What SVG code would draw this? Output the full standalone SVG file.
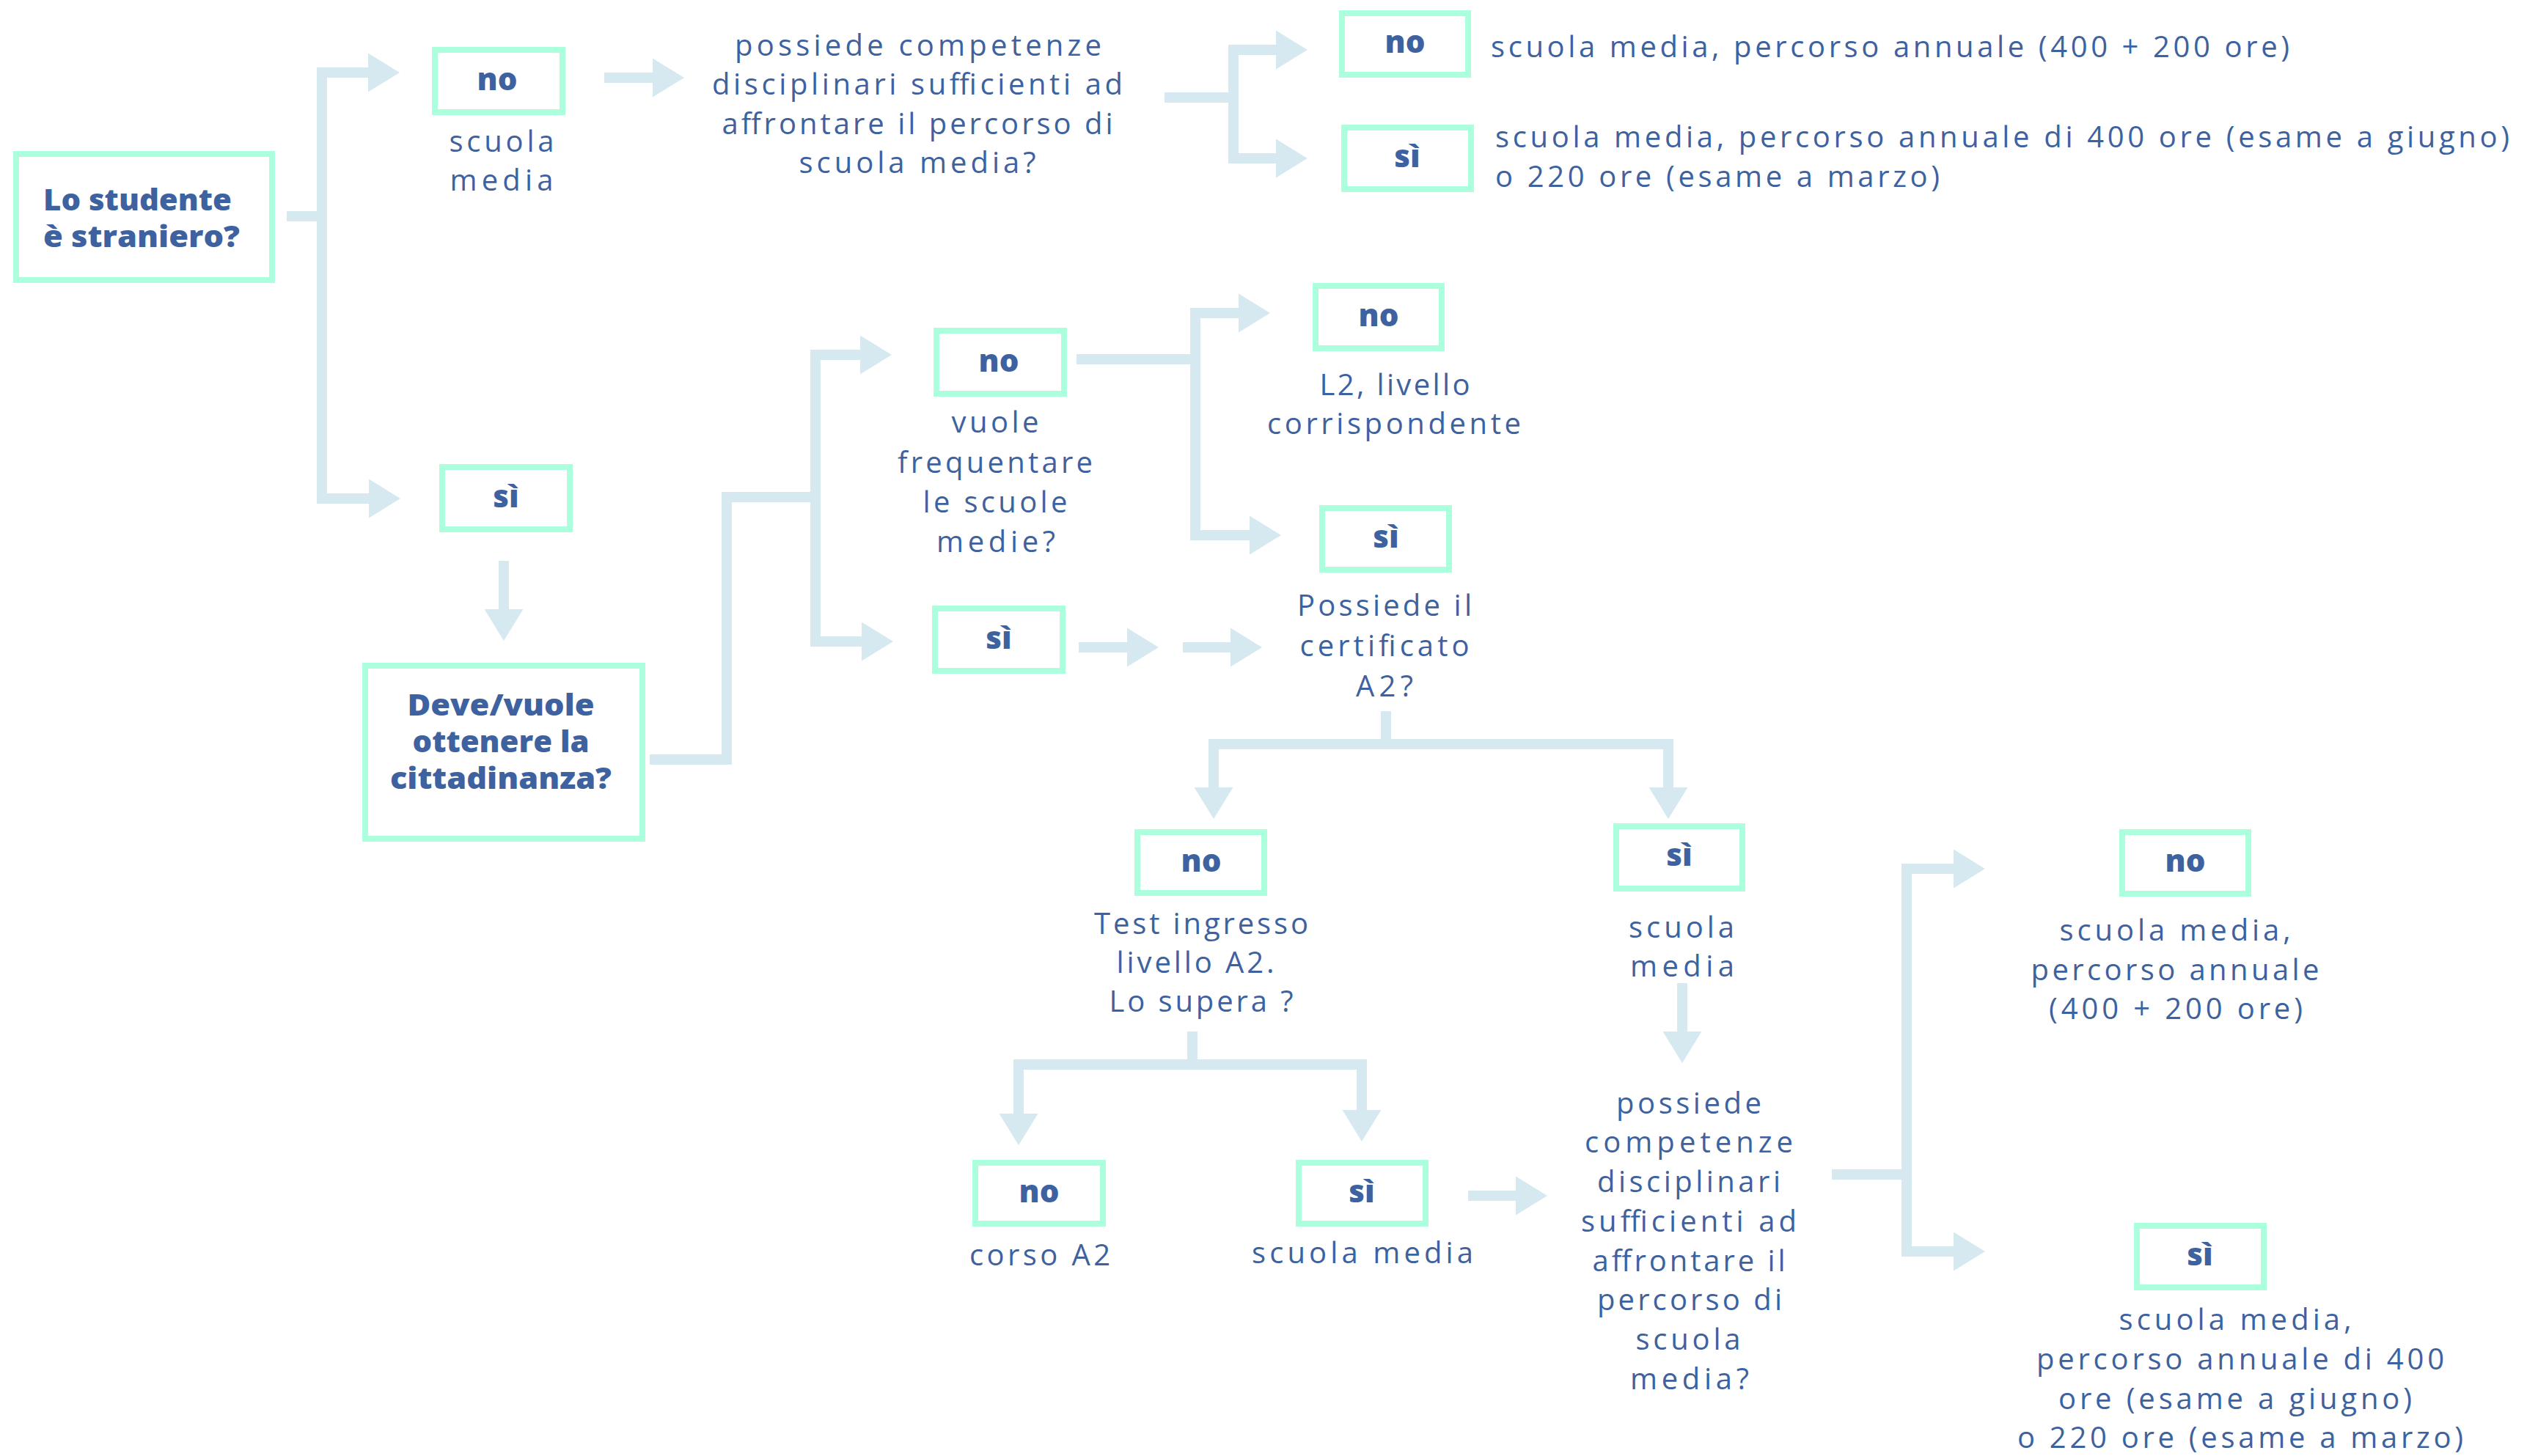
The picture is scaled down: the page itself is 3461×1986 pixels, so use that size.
<svg xmlns="http://www.w3.org/2000/svg" width="3461" height="1986" viewBox="0 0 3461 1986">
<defs>
<style>
.box{fill:#ffffff;stroke:#abffdd;stroke-width:8}
.lbl{font-family:"Open Sans","Liberation Sans",sans-serif;font-weight:800;font-size:42px;fill:#3e629f;text-anchor:middle}
.t{font-family:"Open Sans","Liberation Sans",sans-serif;font-size:40px;fill:#3e629f}
.c{text-anchor:middle}
.q{font-family:"Open Sans","Liberation Sans",sans-serif;font-weight:800;font-size:40px;fill:#3e629f}
#connectors path{fill:none;stroke:#d6e9f0;stroke-width:14;stroke-linejoin:miter}
.ah{fill:#d6e9f0}
</style>
<marker id="ah" markerUnits="userSpaceOnUse" markerWidth="43" markerHeight="53" viewBox="0 0 43 53" refX="0" refY="26.5" orient="auto">
<path class="ah" d="M0,0 L43,26.5 L0,53 Z"/>
</marker>
</defs>
<rect width="3461" height="1986" fill="#ffffff"/>

<g id="connectors">
<path d="M391,295 H439"/>
<path d="M439,92 V687"/>
<path d="M432,99 H502" marker-end="url(#ah)"/>
<path d="M432,680 H503" marker-end="url(#ah)"/>
<path d="M824,106 H890" marker-end="url(#ah)"/>
<path d="M1588,133 H1682"/>
<path d="M1682,61 V223"/>
<path d="M1675,68 H1740" marker-end="url(#ah)"/>
<path d="M1675,216 H1740" marker-end="url(#ah)"/>
<path d="M687,765 V831" marker-end="url(#ah)"/>
<path d="M886,1036 H991 V678 H1112"/>
<path d="M1112,477 V882"/>
<path d="M1105,484 H1173" marker-end="url(#ah)"/>
<path d="M1105,875 H1175" marker-end="url(#ah)"/>
<path d="M1468,490 H1630"/>
<path d="M1630,420 V737"/>
<path d="M1623,427 H1689" marker-end="url(#ah)"/>
<path d="M1623,730 H1704" marker-end="url(#ah)"/>
<path d="M1471,883 H1537" marker-end="url(#ah)"/>
<path d="M1613,883 H1678" marker-end="url(#ah)"/>
<path d="M1890,970 V1015"/>
<path d="M1648,1015 H2282"/>
<path d="M1655,1008 V1074" marker-end="url(#ah)"/>
<path d="M2275,1008 V1074" marker-end="url(#ah)"/>
<path d="M1626,1407 V1452"/>
<path d="M1382,1452 H1864"/>
<path d="M1389,1445 V1519" marker-end="url(#ah)"/>
<path d="M1857,1445 V1514" marker-end="url(#ah)"/>
<path d="M2002,1631 H2067" marker-end="url(#ah)"/>
<path d="M2294,1341 V1407" marker-end="url(#ah)"/>
<path d="M2498,1602 H2600"/>
<path d="M2600,1178 V1714"/>
<path d="M2593,1185 H2664" marker-end="url(#ah)"/>
<path d="M2593,1707 H2664" marker-end="url(#ah)"/>
</g>

<g id="start">
<rect class="box" x="22" y="210" width="349" height="172"/>
<text class="q" x="59" y="287" textLength="257" lengthAdjust="spacingAndGlyphs">Lo studente</text>
<text class="q" x="59" y="337" textLength="268" lengthAdjust="spacingAndGlyphs">è straniero?</text>
</g>

<g id="no1">
<rect class="box" x="593" y="68" width="174" height="85"/>
<text class="lbl" x="678" y="123">no</text>
<text class="t c" x="684" y="207" textLength="143">scuola</text>
<text class="t c" x="684" y="260" textLength="141">media</text>
</g>

<g id="q1">
<text class="t c" x="1252" y="76" textLength="500">possiede competenze</text>
<text class="t c" x="1251" y="129" textLength="560">disciplinari sufficienti ad</text>
<text class="t c" x="1251" y="183" textLength="533">affrontare il percorso di</text>
<text class="t c" x="1251" y="236" textLength="323">scuola media?</text>
</g>

<g id="no2">
<rect class="box" x="1830" y="18" width="172" height="84"/>
<text class="lbl" x="1916" y="72">no</text>
<text class="t" x="2033" y="78" textLength="1089">scuola media, percorso annuale (400 + 200 ore)</text>
</g>

<g id="si2">
<rect class="box" x="1833" y="174" width="173" height="84"/>
<text class="lbl" x="1919" y="228">sì</text>
<text class="t" x="2039" y="201" textLength="1383">scuola media, percorso annuale di 400 ore (esame a giugno)</text>
<text class="t" x="2039" y="255" textLength="606">o 220 ore (esame a marzo)</text>
</g>

<g id="si1">
<rect class="box" x="603" y="637" width="174" height="85"/>
<text class="lbl" x="690" y="692">sì</text>
</g>

<g id="cittadinanza">
<rect class="box" x="498" y="908" width="378" height="236"/>
<text class="q c" x="683" y="976" textLength="255" lengthAdjust="spacingAndGlyphs">Deve/vuole</text>
<text class="q c" x="683" y="1026" textLength="241" lengthAdjust="spacingAndGlyphs">ottenere la</text>
<text class="q c" x="683" y="1076" textLength="302" lengthAdjust="spacingAndGlyphs">cittadinanza?</text>
</g>

<g id="no3">
<rect class="box" x="1277" y="451" width="174" height="86"/>
<text class="lbl" x="1362" y="507">no</text>
<text class="t c" x="1357" y="590" textLength="119">vuole</text>
<text class="t c" x="1357" y="645" textLength="266">frequentare</text>
<text class="t c" x="1357" y="699" textLength="197">le scuole</text>
<text class="t c" x="1358" y="753" textLength="162">medie?</text>
</g>

<g id="si3">
<rect class="box" x="1275" y="830" width="174" height="85"/>
<text class="lbl" x="1362" y="885">sì</text>
</g>

<g id="no4">
<rect class="box" x="1794" y="390" width="172" height="85"/>
<text class="lbl" x="1880" y="445">no</text>
<text class="t c" x="1902" y="539" textLength="205">L2, livello</text>
<text class="t c" x="1901" y="592" textLength="346">corrispondente</text>
</g>

<g id="si4">
<rect class="box" x="1803" y="693" width="173" height="84"/>
<text class="lbl" x="1890" y="747">sì</text>
<text class="t c" x="1888" y="840" textLength="238">Possiede il</text>
<text class="t c" x="1888" y="895" textLength="231">certificato</text>
<text class="t c" x="1888" y="950" textLength="78">A2?</text>
</g>

<g id="no5">
<rect class="box" x="1551" y="1135" width="173" height="83"/>
<text class="lbl" x="1638" y="1189">no</text>
<text class="t c" x="1638" y="1274" textLength="292">Test ingresso</text>
<text class="t c" x="1630" y="1327" textLength="215">livello A2.</text>
<text class="t c" x="1638" y="1380" textLength="251">Lo supera ?</text>
</g>

<g id="si5">
<rect class="box" x="2204" y="1127" width="172" height="85"/>
<text class="lbl" x="2290" y="1181">sì</text>
<text class="t c" x="2293" y="1279" textLength="144">scuola</text>
<text class="t c" x="2294" y="1332" textLength="142">media</text>
</g>

<g id="no6">
<rect class="box" x="1330" y="1586" width="174" height="83"/>
<text class="lbl" x="1417" y="1640">no</text>
<text class="t c" x="1418" y="1726" textLength="192">corso A2</text>
</g>

<g id="si6">
<rect class="box" x="1771" y="1586" width="173" height="83"/>
<text class="lbl" x="1857" y="1640">sì</text>
<text class="t c" x="1858" y="1723" textLength="302">scuola media</text>
</g>

<g id="q2">
<text class="t c" x="2303" y="1519" textLength="198">possiede</text>
<text class="t c" x="2303" y="1572" textLength="284">competenze</text>
<text class="t c" x="2303" y="1626" textLength="250">disciplinari</text>
<text class="t c" x="2303" y="1680" textLength="294">sufficienti ad</text>
<text class="t c" x="2303" y="1734" textLength="263">affrontare il</text>
<text class="t c" x="2304" y="1787" textLength="252">percorso di</text>
<text class="t c" x="2302" y="1841" textLength="143">scuola</text>
<text class="t c" x="2304" y="1895" textLength="162">media?</text>
</g>

<g id="no7">
<rect class="box" x="2894" y="1135" width="172" height="84"/>
<text class="lbl" x="2980" y="1189">no</text>
<text class="t c" x="2966" y="1283" textLength="315">scuola media,</text>
<text class="t c" x="2966" y="1337" textLength="393">percorso annuale</text>
<text class="t c" x="2967" y="1390" textLength="346">(400 + 200 ore)</text>
</g>

<g id="si7">
<rect class="box" x="2914" y="1672" width="173" height="84"/>
<text class="lbl" x="3000" y="1726">sì</text>
<text class="t c" x="3048" y="1814" textLength="317">scuola media,</text>
<text class="t c" x="3055" y="1868" textLength="556">percorso annuale di 400</text>
<text class="t c" x="3048" y="1922" textLength="482">ore (esame a giugno)</text>
<text class="t c" x="3055" y="1975" textLength="608">o 220 ore (esame a marzo)</text>
</g>
</svg>
